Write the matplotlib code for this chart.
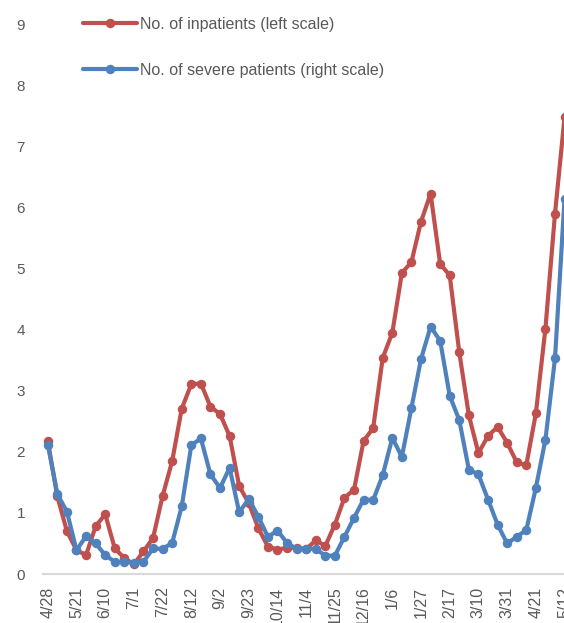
import matplotlib
matplotlib.use("Agg")
import matplotlib.pyplot as plt
import numpy as np

# weekly values (both drawn on the left-scale pixel grid)
inpatients = [2.18, 1.27, 0.70, 0.39, 0.31, 0.78, 0.98, 0.42, 0.26, 0.16,
              0.37, 0.59, 1.28, 1.85, 2.71, 3.11, 3.12, 2.74, 2.62, 2.26,
              1.44, 1.16, 0.75, 0.45, 0.40, 0.43, 0.43, 0.41, 0.55, 0.46,
              0.81, 1.25, 1.38, 2.18, 2.39, 3.54, 3.95, 4.93, 5.11, 5.77,
              6.23, 5.08, 4.89, 3.63, 2.60, 1.98, 2.26, 2.41, 2.15, 1.83,
              1.78, 2.63, 4.02, 5.90, 7.48]
severe = [2.12, 1.31, 1.02, 0.39, 0.62, 0.50, 0.31, 0.20, 0.20, 0.18,
          0.20, 0.42, 0.41, 0.51, 1.11, 2.11, 2.22, 1.63, 1.41, 1.74,
          1.01, 1.23, 0.94, 0.61, 0.71, 0.51, 0.41, 0.41, 0.41, 0.30,
          0.30, 0.61, 0.92, 1.22, 1.21, 1.62, 2.23, 1.92, 2.72, 3.52,
          4.05, 3.82, 2.92, 2.52, 1.71, 1.63, 1.22, 0.81, 0.50, 0.61,
          0.72, 1.41, 2.20, 3.53, 6.15]
tick_labels = ["4/28", "5/21", "6/10", "7/1", "7/22", "8/12", "9/2", "9/23",
               "10/14", "11/4", "11/25", "12/16", "1/6", "1/27", "2/17",
               "3/10", "3/31", "4/21", "5/12"]
y_ticks = list(range(0, 10))

RED = "#C0504D"
BLUE = "#4F81BD"
GRAY = "#595959"

plt.rcParams["font.family"] = ["Liberation Sans", "DejaVu Sans"]

W, H = 564, 623
fig = plt.figure(figsize=(W / 100, H / 100), dpi=100)
fig.patch.set_facecolor("white")

# plot area runs past the right edge of the picture (chart is cropped)
n_cat = 56
left_px, bottom_px, top_px = 43, 574, 24.5
ax = fig.add_axes([left_px / W, (H - bottom_px) / H,
                   n_cat * 9.57 / W, (bottom_px - top_px) / H])

x = np.arange(len(inpatients))
style = dict(lw=3.0, marker="o", ms=5.8, solid_joinstyle="round",
             solid_capstyle="round", clip_on=False)
ax.plot(x, inpatients, color=RED, label="No. of inpatients (left scale)",
        zorder=3, **style)
ax.plot(x, severe, color=BLUE, label="No. of severe patients (right scale)",
        zorder=4, **style)

ax.set_xlim(-0.5, n_cat - 0.5)
ax.set_ylim(0, 9)
ax.set_yticks(y_ticks)
ax.set_xticks(x[::3])
ax.set_xticklabels(tick_labels, rotation=90, va="top", ha="center")
ax.tick_params(axis="y", length=0, pad=13, labelsize=11, labelcolor=GRAY)
ax.tick_params(axis="x", length=0, pad=9, labelsize=11.5, labelcolor=GRAY)

for side in ["left", "right", "top"]:
    ax.spines[side].set_visible(False)
ax.spines["bottom"].set_color("#D9D9D9")
ax.spines["bottom"].set_linewidth(1.5)

leg = fig.legend(loc="upper left", bbox_to_anchor=(83 / W, 1 - 17 / H),
                 frameon=False, fontsize=11.5, handlelength=3.4,
                 handletextpad=0.2, labelspacing=1.92, borderpad=0,
                 borderaxespad=0, numpoints=1, markerscale=1.0)
for t in leg.get_texts():
    t.set_color(GRAY)

fig.savefig("out.png", dpi=100, facecolor="white")
